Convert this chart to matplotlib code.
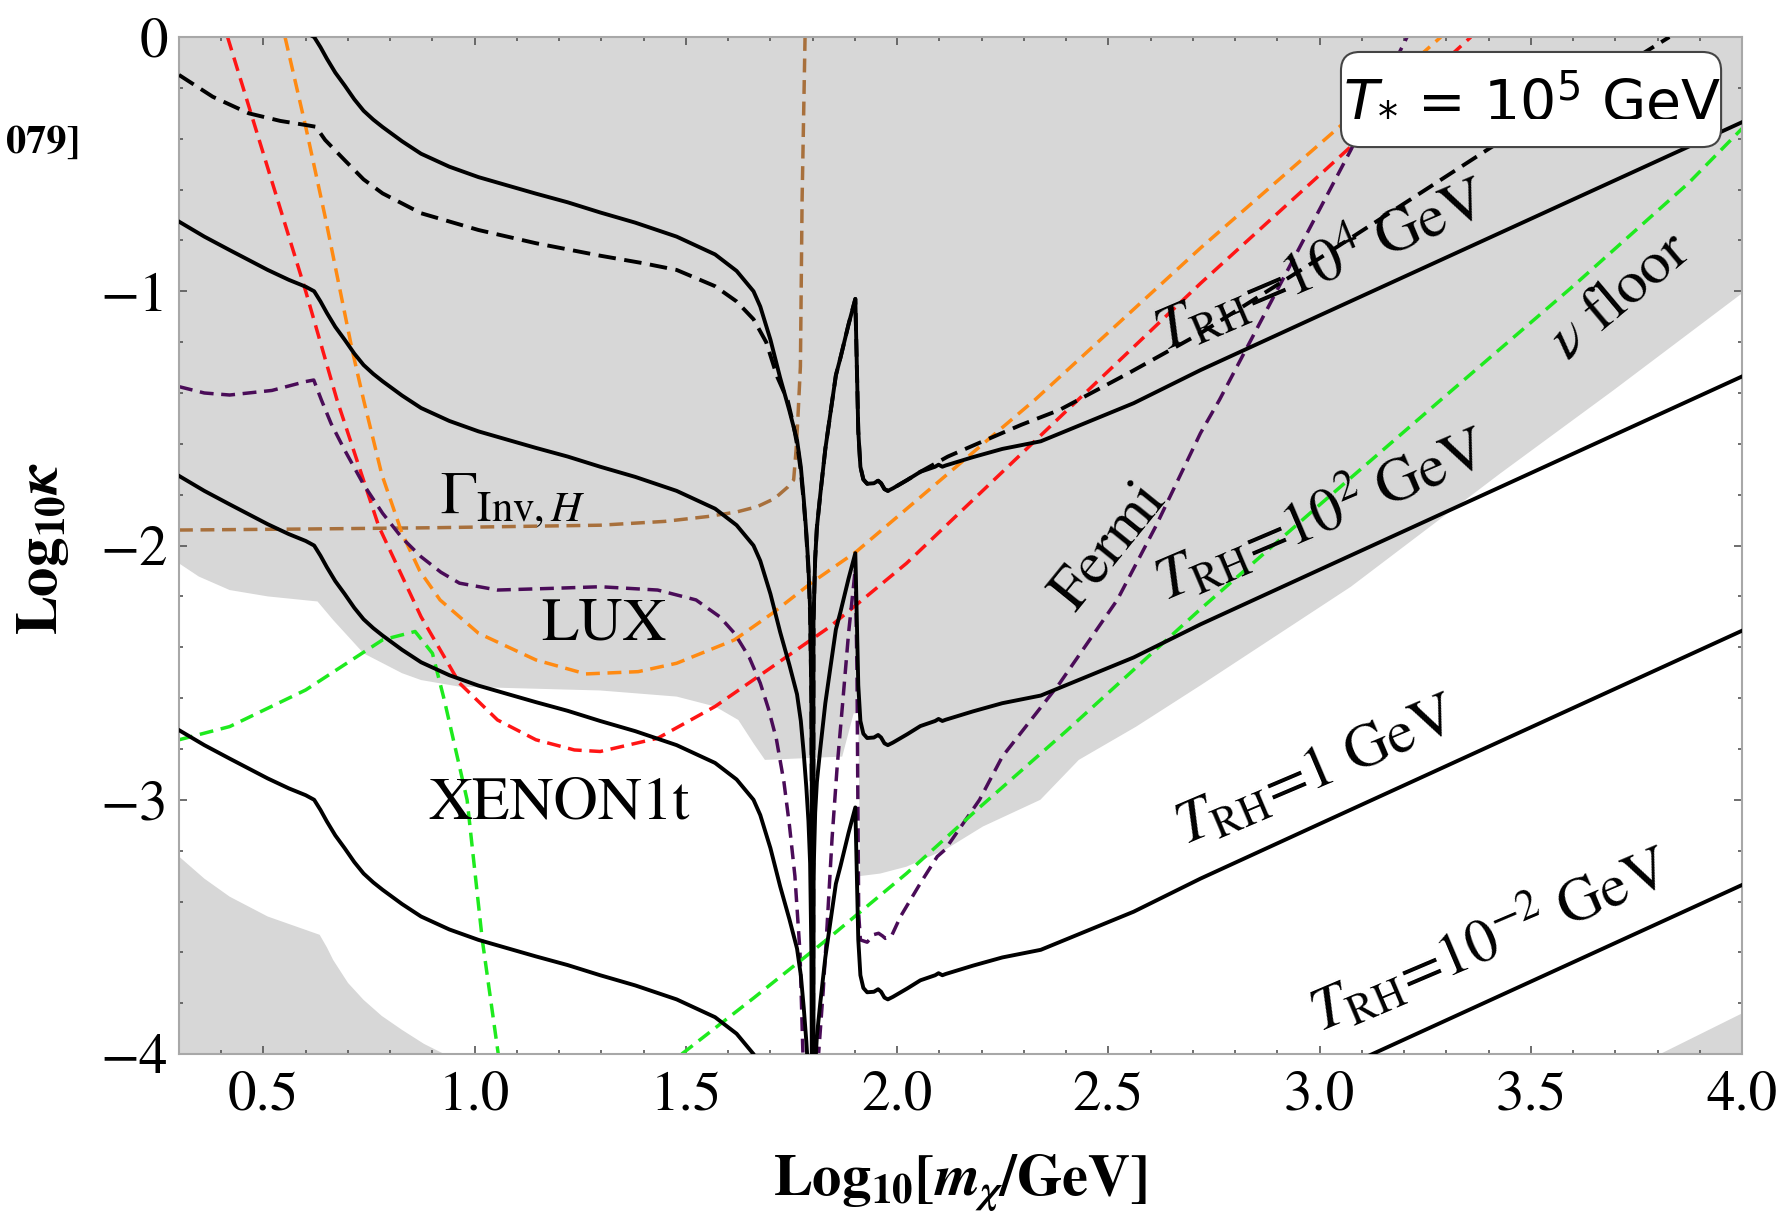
import numpy as np
import matplotlib
matplotlib.use("Agg")
import matplotlib.pyplot as plt
from matplotlib.patches import FancyBboxPatch

plt.rcParams['font.family'] = 'STIXGeneral'
plt.rcParams['mathtext.fontset'] = 'stix'

# --- freeze-in contours, T_RH = 10^4 GeV branch (others are whole-decade shifts) ---
left_x = [0.30, 0.36, 0.42, 0.51, 0.56, 0.60, 0.62, 0.635, 0.65, 0.67, 0.692, 0.715, 0.737, 0.76, 0.782,
          0.828, 0.873, 0.94, 1.009, 1.08, 1.145, 1.22, 1.297, 1.38, 1.478, 1.569, 1.62, 1.66, 1.676,
          1.70, 1.723, 1.745, 1.763, 1.772, 1.779, 1.785, 1.79, 1.794, 1.797, 1.799, 1.8]
left_y = [0.274, 0.215, 0.162, 0.084, 0.045, 0.018, 0.0, -0.04, -0.085, -0.14, -0.19, -0.245, -0.29, -0.325, -0.354,
          -0.41, -0.459, -0.51, -0.551, -0.585, -0.616, -0.65, -0.69, -0.73, -0.785, -0.855, -0.92, -1.0, -1.06,
          -1.19, -1.34, -1.47, -1.585, -1.69, -1.82, -1.95, -2.083, -2.25, -2.6, -3.4, -5.5]
right_x = [1.8005, 1.802, 1.806, 1.81, 1.818, 1.83, 1.842, 1.855, 1.866, 1.885, 1.901, 1.904, 1.908,
           1.913, 1.92, 1.929, 1.945, 1.955, 1.962, 1.97, 1.978, 1.99, 2.024, 2.055, 2.09, 2.098,
           2.107, 2.115, 2.18, 2.249, 2.34, 2.384, 2.56, 2.718, 3.0, 3.5, 4.0]
right_y = [-5.5, -2.3, -2.05, -1.93, -1.8, -1.62, -1.48, -1.33, -1.26, -1.13, -1.03, -1.25, -1.55,
           -1.69, -1.74, -1.757, -1.755, -1.745, -1.755, -1.778, -1.785, -1.775, -1.742, -1.71, -1.69, -1.682,
           -1.69, -1.685, -1.652, -1.62, -1.59, -1.56, -1.44, -1.31, -1.095, -0.715, -0.335]
trh_shift = [0, -1, -2, -3]   # T_RH = 10^4, 10^2, 1, 10^-2 GeV

# dashed black contour
dash_x = [0.30, 0.38, 0.465, 0.54, 0.60, 0.624, 0.646, 0.692, 0.737, 0.782, 0.873, 1.009, 1.145,
          1.297, 1.40, 1.478, 1.569, 1.62, 1.66, 1.69, 1.716, 1.741, 1.755, 1.765, 1.772, 1.779,
          1.785, 1.79, 1.794, 1.797, 1.799, 1.8,
          1.8005, 1.802, 1.806, 1.81, 1.818, 1.83, 1.842, 1.855, 1.866, 1.885, 1.901, 1.904, 1.908,
          1.913, 1.92, 1.929, 1.945, 1.955, 1.962, 1.97, 1.978, 1.99, 2.024, 2.055, 2.12, 2.203,
          2.294, 2.384, 2.55, 2.718, 3.0, 3.402, 3.828]
dash_y = [-0.149, -0.235, -0.30, -0.33, -0.346, -0.353, -0.405, -0.484, -0.56, -0.615, -0.693, -0.759, -0.811,
          -0.86, -0.89, -0.916, -0.98, -1.04, -1.11, -1.2, -1.336, -1.43, -1.53, -1.62, -1.71, -1.83,
          -1.96, -2.1, -2.27, -2.6, -3.4, -5.5,
          -5.5, -2.3, -2.05, -1.93, -1.8, -1.62, -1.48, -1.33, -1.26, -1.13, -1.03, -1.25, -1.55,
          -1.69, -1.74, -1.757, -1.755, -1.745, -1.755, -1.778, -1.785, -1.775, -1.742, -1.71, -1.65, -1.59,
          -1.525, -1.467, -1.32, -1.165, -0.87, -0.438, 0.0]

# invisible Higgs width
inv_x = [0.3, 0.6, 0.9, 1.297, 1.45, 1.551, 1.62, 1.669, 1.71, 1.741, 1.755, 1.761, 1.765, 1.771, 1.775, 1.782]
inv_y = [-1.939, -1.935, -1.93, -1.92, -1.905, -1.886, -1.868, -1.847, -1.815, -1.77, -1.742, -1.62, -1.5, -1.296, -0.641, 0.0]

# LUX / Fermi
lux_x = [0.3, 0.36, 0.42, 0.52, 0.6, 0.619, 0.637, 0.66, 0.692, 0.737, 0.782, 0.828, 0.873, 0.92, 0.964,
         1.054, 1.191, 1.297, 1.433, 1.524, 1.58, 1.615, 1.65, 1.676, 1.695, 1.714, 1.732, 1.745, 1.758,
         1.77, 1.777, 1.785, 1.806, 1.814, 1.825, 1.834, 1.846, 1.858, 1.872, 1.885, 1.895, 1.901, 1.905,
         1.907, 1.909, 1.913, 1.929, 1.945, 1.956, 1.965, 1.972, 1.986, 2.008, 2.055, 2.095, 2.113, 2.195,
         2.249, 2.385, 2.521, 2.612, 2.718, 2.763, 3.074, 3.207]
lux_y = [-1.375, -1.40, -1.408, -1.39, -1.355, -1.349, -1.427, -1.52, -1.624, -1.76, -1.873, -1.97, -2.044, -2.105, -2.148,
         -2.175, -2.168, -2.162, -2.175, -2.214, -2.28, -2.345, -2.44, -2.541, -2.64, -2.76, -2.93, -3.1, -3.3,
         -3.6, -4.0, -4.6, -4.6, -4.0, -3.75, -3.5, -3.15, -2.87, -2.6, -2.345, -2.187, -2.09, -2.5,
         -3.0, -3.45, -3.551, -3.56, -3.53, -3.525, -3.535, -3.545, -3.538, -3.459, -3.328, -3.223, -3.197, -3.0,
         -2.83, -2.541, -2.214, -1.925, -1.558, -1.427, -0.444, 0.0]

# XENON1t
xe_x = [0.415, 0.5, 0.60, 0.674, 0.773, 0.873, 0.964, 1.054, 1.145, 1.236, 1.297, 1.433, 1.569, 1.705,
        1.841, 2.022, 2.42, 2.718, 3.074, 3.358]
xe_y = [0.0, -0.46, -1.0, -1.427, -1.925, -2.28, -2.541, -2.686, -2.764, -2.804, -2.81, -2.758, -2.633, -2.476,
        -2.319, -2.07, -1.44, -0.969, -0.431, 0.0]

# orange limit
or_x = [0.551, 0.60, 0.646, 0.71, 0.737, 0.78, 0.828, 0.87, 0.918, 1.009, 1.145, 1.263, 1.387, 1.478,
        1.615, 1.705, 1.796, 1.904, 2.326, 2.718, 3.047, 3.287]
or_y = [0.0, -0.353, -0.707, -1.231, -1.427, -1.72, -1.952, -2.1, -2.214, -2.345, -2.45, -2.505, -2.496, -2.463,
        -2.371, -2.266, -2.148, -2.023, -1.427, -0.83, -0.353, 0.0]

# neutrino floor
nu1_x = [0.3, 0.42, 0.6, 0.782, 0.859, 0.9, 0.928, 0.964, 0.982, 1.018, 1.06]
nu1_y = [-2.764, -2.712, -2.568, -2.371, -2.338, -2.424, -2.607, -2.869, -3.0, -3.551, -4.05]
nu2_x = [1.49, 1.66, 1.841, 2.022, 2.195, 2.4, 2.718, 3.0, 3.287, 3.6, 3.873, 4.0]
nu2_y = [-4.0, -3.78, -3.54, -3.29, -3.03, -2.73, -2.25, -1.84, -1.427, -0.98, -0.575, -0.36]

# excluded (gray) regions
excl_x = [0.3, 4.0, 4.0, 3.695, 3.428, 3.074, 2.718, 2.566, 2.43, 2.339, 2.203, 2.113, 2.022, 1.96,
          1.912, 1.908, 1.897, 1.87, 1.687, 1.66, 1.624, 1.569, 1.478, 1.297, 0.964, 0.873, 0.828,
          0.737, 0.665, 0.628, 0.51, 0.42, 0.347, 0.3]
excl_y = [0.0, 0.0, -1.008, -1.39, -1.716, -2.162, -2.55, -2.712, -2.843, -3.0, -3.105, -3.197, -3.263, -3.29,
          -3.30, -2.66, -2.66, -2.83, -2.843, -2.778, -2.686, -2.633, -2.594, -2.57, -2.555, -2.529, -2.502,
          -2.424, -2.293, -2.22, -2.2, -2.175, -2.122, -2.07]
low_x = [0.3, 0.3, 0.36, 0.42, 0.51, 0.633, 0.65, 0.665, 0.70, 0.737, 0.78, 0.828, 0.88, 0.928]
low_y = [-4.0, -3.223, -3.31, -3.381, -3.459, -3.531, -3.58, -3.63, -3.72, -3.787, -3.85, -3.905, -3.96, -4.0]
corner_x = [3.806, 4.0, 4.0]
corner_y = [-4.0, -3.84, -4.0]

xticks = [0.5, 1.0, 1.5, 2.0, 2.5, 3.0, 3.5, 4.0]
yticks = [0, -1, -2, -3, -4]

fig = plt.figure(figsize=(17.88, 12.18), dpi=100)
ax = fig.add_axes([0.1001, 0.1346, 0.8742, 0.835])

gray = '#d7d7d7'
ax.fill(excl_x, excl_y, color=gray, lw=0, zorder=0)
ax.fill(low_x, low_y, color=gray, lw=0, zorder=0)
ax.fill(corner_x, corner_y, color=gray, lw=0, zorder=0)

dsh = (0, (4, 2.2))
lwc = 2.5
ax.plot(inv_x, inv_y, color='#a8703c', lw=lwc, ls=dsh, zorder=2)
ax.plot(or_x, or_y, color='#ff8a12', lw=lwc, ls=dsh, zorder=2)
ax.plot(xe_x, xe_y, color='#ff1515', lw=lwc, ls=dsh, zorder=2)
ax.plot(lux_x, lux_y, color='#4a0c58', lw=lwc, ls=dsh, zorder=2)
ax.plot(nu1_x, nu1_y, color='#1eea1e', lw=lwc, ls=dsh, zorder=2)
ax.plot(nu2_x, nu2_y, color='#1eea1e', lw=lwc, ls=dsh, zorder=2)

ax.plot(dash_x, dash_y, color='black', lw=2.8, ls=(0, (4.5, 2.2)), zorder=3)
for s in trh_shift:
    ax.plot(left_x, np.array(left_y) + s, color='black', lw=2.8, zorder=3)
    ax.plot(right_x, np.array(right_y) + s, color='black', lw=2.8, zorder=3)

# labels inside the plot
fs = 44
ax.text(3.003, -0.897, r'$T_{\rm RH}$=10$^{4}$ GeV', fontsize=fs, rotation=23,
        ha='center', va='center', rotation_mode='anchor', zorder=4)
ax.text(3.003, -1.88, r'$T_{\rm RH}$=10$^{2}$ GeV', fontsize=fs, rotation=23,
        ha='center', va='center', rotation_mode='anchor', zorder=4)
ax.text(2.995, -2.90, r'$T_{\rm RH}$=1 GeV', fontsize=fs, rotation=23,
        ha='center', va='center', rotation_mode='anchor', zorder=4)
ax.text(3.403, -3.551, r'$T_{\rm RH}$=10$^{-2}$ GeV', fontsize=fs, rotation=23,
        ha='center', va='center', rotation_mode='anchor', zorder=4)
ax.text(3.713, -1.022, r'$\nu$ floor', fontsize=fs, rotation=40,
        ha='center', va='center', rotation_mode='anchor', zorder=4)
ax.text(2.503, -2.006, 'Fermi', fontsize=fs, rotation=51,
        ha='center', va='center', rotation_mode='anchor', zorder=4)
ax.text(0.918, -1.872, r'$\Gamma_{{\rm Inv},H}$', fontsize=fs, ha='left', va='baseline', zorder=4)
ax.text(1.157, -2.371, 'LUX', fontsize=fs, ha='left', va='baseline', zorder=4)
ax.text(0.89, -3.075, 'XENON1t', fontsize=fs, ha='left', va='baseline', zorder=4)

# T_* box in the upper right corner
box = FancyBboxPatch((0.7434, 0.8918), 0.2432, 0.0935, transform=ax.transAxes,
                     boxstyle='round,pad=0,rounding_size=0.012', mutation_aspect=1.537,
                     fc='white', ec='#444444', lw=1.5, zorder=6)
ax.add_patch(box)
ax.text(3.502, -0.245, r'$T_{*}$ = 10$^{5}$ GeV', fontsize=41, family='DejaVu Sans',
        math_fontfamily='dejavusans', ha='center', va='center', zorder=7)

ax.set_xlim(0.3, 4.0)
ax.set_ylim(-4.0, 0.0)
ax.set_xticks(xticks)
ax.set_xticklabels([f'{v:.1f}' for v in xticks])
ax.set_yticks(yticks)
ax.set_yticklabels([f'{v:d}'.replace('-', '\u2212') for v in yticks])
ax.set_xticks(np.arange(0.3, 4.001, 0.1), minor=True)
ax.set_yticks(np.arange(-4.0, 0.001, 0.2), minor=True)
ax.tick_params(which='both', direction='in', top=True, right=True, color='#555555', width=1.2,
               labelsize=41)
ax.tick_params(which='major', length=6)
ax.tick_params(which='minor', length=3)
ax.tick_params(axis='x', pad=12)
ax.tick_params(axis='y', pad=8)
for sp in ax.spines.values():
    sp.set_color('#a8a8a8')
    sp.set_linewidth(1.5)

fig.text(960 / 1788, 1 - 1183 / 1218, r'$\mathbf{Log_{10}[}\mathbfit{m_{\chi}}\mathbf{/GeV]}$',
         fontsize=42, ha='center', va='center')
fig.text(43 / 1788, 1 - 548 / 1218, r'$\mathbf{Log_{10}}\mathbfit{\kappa}$',
         fontsize=42, ha='center', va='center', rotation=90)
fig.text(80 / 1788, 1 - 143 / 1218, '079]', fontsize=29, fontweight='bold', ha='right', va='center')

fig.savefig('out.png', dpi=100)
